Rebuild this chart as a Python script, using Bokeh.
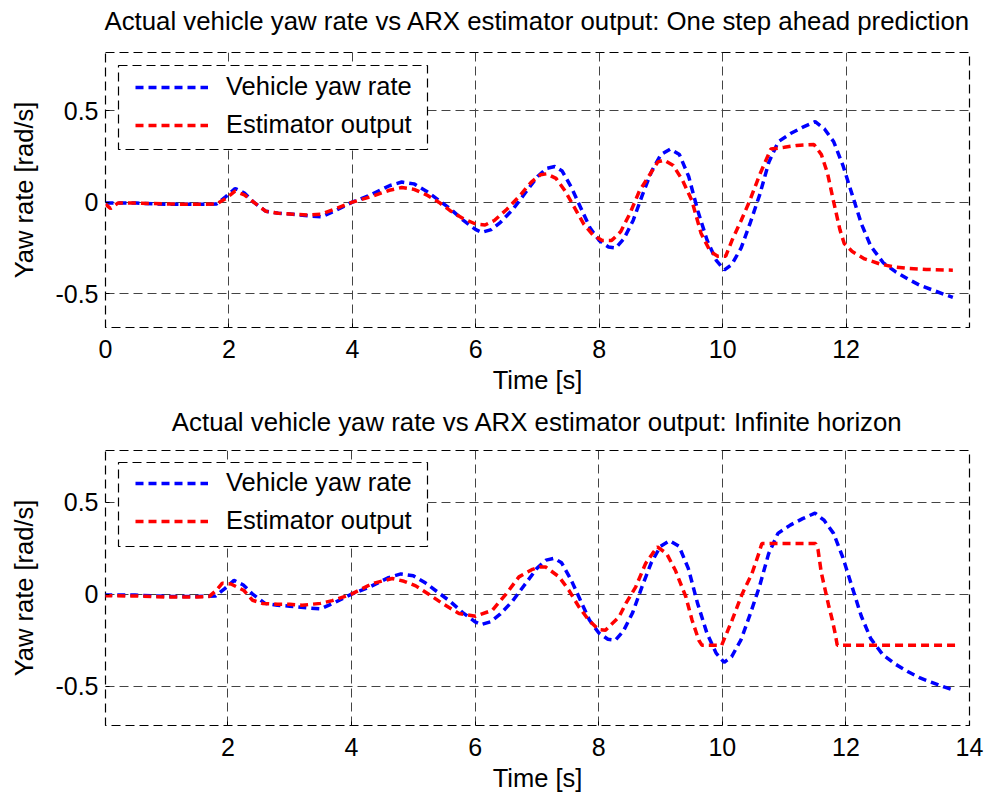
from bokeh.plotting import figure
from bokeh.layouts import column
from bokeh.models import FixedTicker, Range1d, Legend, LegendItem, BoxAnnotation
from bokeh.embed import file_html
from bokeh.resources import INLINE

# ---------------- data ----------------
t_yaw = [0.0, 0.2, 0.5, 1.0, 1.5, 1.8, 1.95, 2.1, 2.25, 2.4,
         2.6, 2.8, 3.0, 3.3, 3.5, 3.7, 4.0, 4.3, 4.6, 4.8,
         5.0, 5.2, 5.4, 5.6, 5.8, 6.0, 6.1, 6.25, 6.4, 6.6,
         6.8, 7.0, 7.15, 7.28, 7.4, 7.55, 7.7, 7.85, 8.0, 8.15,
         8.27, 8.4, 8.55, 8.7, 8.85, 9.0, 9.15, 9.3, 9.45, 9.6,
         9.75, 9.9, 10.03, 10.15, 10.3, 10.45, 10.6, 10.75, 10.9, 11.1,
         11.3, 11.5, 11.65, 11.8, 11.95, 12.1, 12.25, 12.4, 12.6, 12.8,
         13.0, 13.2, 13.4, 13.6, 13.73]
yaw_rate = [-0.005, -0.005, -0.005, -0.012, -0.012, -0.01, 0.03, 0.075, 0.05, 0.0,
            -0.05, -0.06, -0.065, -0.075, -0.08, -0.05, 0.0, 0.04, 0.09, 0.11,
            0.1, 0.06, 0.01, -0.04, -0.1, -0.15, -0.165, -0.15, -0.11, -0.04,
            0.05, 0.14, 0.185, 0.195, 0.17, 0.08, -0.03, -0.14, -0.21, -0.245,
            -0.25, -0.2, -0.1, 0.04, 0.17, 0.26, 0.29, 0.26, 0.14, -0.05,
            -0.21, -0.32, -0.37, -0.34, -0.25, -0.11, 0.04, 0.22, 0.33, 0.375,
            0.41, 0.44, 0.4, 0.33, 0.2, 0.04, -0.12, -0.24, -0.33, -0.38,
            -0.42, -0.455, -0.48, -0.505, -0.52]

t_est1 = [0.0, 0.08, 0.2, 0.5, 1.0, 1.5, 1.8, 1.95, 2.1, 2.25,
          2.4, 2.6, 2.8, 3.0, 3.3, 3.5, 3.7, 4.0, 4.3, 4.6,
          4.8, 5.0, 5.2, 5.4, 5.6, 5.8, 6.0, 6.15, 6.3, 6.5,
          6.7, 6.9, 7.05, 7.15, 7.3, 7.45, 7.6, 7.75, 7.9, 8.05,
          8.2, 8.35, 8.5, 8.65, 8.8, 8.95, 9.05, 9.2, 9.35, 9.5,
          9.65, 9.8, 9.92, 10.05, 10.15, 10.3, 10.43, 10.6, 10.78, 11.0,
          11.2, 11.48, 11.6, 11.7, 11.8, 11.9, 11.97, 12.1, 12.3, 12.56,
          12.8, 13.0, 13.3, 13.73]
est1 = [-0.01, -0.035, -0.005, -0.005, -0.01, -0.012, -0.01, 0.02, 0.06, 0.04,
        0.0, -0.05, -0.06, -0.065, -0.07, -0.065, -0.04, 0.0, 0.03, 0.065,
        0.08, 0.07, 0.04, 0.0, -0.05, -0.09, -0.12, -0.125, -0.1, -0.04,
        0.03, 0.11, 0.15, 0.155, 0.13, 0.06, -0.03, -0.12, -0.18, -0.21,
        -0.21, -0.16, -0.06, 0.06, 0.14, 0.22, 0.23, 0.2, 0.12, 0.01,
        -0.17, -0.27, -0.295, -0.295, -0.21, -0.1, 0.0, 0.15, 0.29, 0.3,
        0.31, 0.315, 0.26, 0.157, 0.0, -0.15, -0.226, -0.27, -0.31, -0.339,
        -0.355, -0.362, -0.368, -0.372]

t_est2 = [0.0, 0.5, 1.0, 1.5, 1.7, 1.81, 1.91, 2.05, 2.26, 2.4,
          2.56, 2.8, 3.0, 3.2, 3.5, 3.69, 4.0, 4.34, 4.66, 4.85,
          5.04, 5.25, 5.47, 5.74, 6.01, 6.28, 6.5, 6.71, 6.93, 7.05,
          7.14, 7.36, 7.52, 7.68, 7.84, 8.0, 8.11, 8.33, 8.44, 8.6,
          8.76, 8.87, 8.95, 9.1, 9.24, 9.41, 9.51, 9.62, 9.67, 9.99,
          10.16, 10.32, 10.48, 10.59, 10.64, 11.51, 11.55, 11.6, 11.66, 11.72,
          11.78, 11.83, 11.86, 13.8]
est2 = [-0.008, -0.01, -0.015, -0.015, -0.012, 0.02, 0.06, 0.055, 0.02, -0.033,
        -0.05, -0.055, -0.055, -0.06, -0.05, -0.035, 0.0, 0.058, 0.085, 0.07,
        0.045, 0.0, -0.05, -0.105, -0.12, -0.087, 0.0, 0.094, 0.135, 0.148,
        0.148, 0.094, 0.02, -0.069, -0.141, -0.192, -0.196, -0.123, -0.05, 0.04,
        0.167, 0.22, 0.257, 0.22, 0.13, -0.014, -0.14, -0.25, -0.277, -0.277,
        -0.14, 0.0, 0.112, 0.22, 0.275, 0.275, 0.24, 0.12, 0.03, -0.06,
        -0.14, -0.22, -0.277, -0.277]

titles = ["Actual vehicle yaw rate vs ARX estimator output: One step ahead prediction",
          "Actual vehicle yaw rate vs ARX estimator output: Infinite horizon"]
legend_labels = ["Vehicle yaw rate", "Estimator output"]
x_label = "Time [s]"
y_label = "Yaw rate [rad/s]"
xticks_top = [0, 2, 4, 6, 8, 10, 12]
xticks_bottom = [2, 4, 6, 8, 10, 12, 14]
yticks = [-0.5, 0, 0.5]
ytick_labels = {-0.5: "-0.5", 0: "0", 0.5: "0.5"}

FONT = "Liberation Sans"
W = 985


def title_fig(text, height, standoff):
    t = figure(width=W, height=height, output_backend="svg", toolbar_location=None,
               min_border=0, x_axis_type=None, y_axis_type=None,
               x_range=Range1d(0, 1), y_range=Range1d(0, 1))
    t.outline_line_color = None
    t.title.text = text
    t.title.align = "center"
    t.title.standoff = standoff
    t.title.text_font = FONT
    t.title.text_font_size = "25.8px"
    t.title.text_font_style = "normal"
    t.title.text_color = "black"
    return t


def make(est_t, est_v, xr, yr, xticks, height, left, top, right, bottom, legend_y):
    p = figure(width=W, height=height, x_range=Range1d(*xr), y_range=Range1d(*yr),
               output_backend="svg", toolbar_location=None,
               min_border_left=left, min_border_right=right,
               min_border_top=top, min_border_bottom=bottom)
    fh = height - top - bottom

    p.outline_line_color = "black"
    p.outline_line_dash = "9 5"
    p.outline_line_width = 1.2
    p.outline_line_alpha = 1.0

    p.xaxis.ticker = FixedTicker(ticks=xticks)
    p.yaxis.ticker = FixedTicker(ticks=yticks)
    p.yaxis.major_label_overrides = ytick_labels
    for ax in (p.xaxis, p.yaxis):
        ax.axis_line_color = None
        ax.major_tick_in = 4
        ax.major_tick_out = 0
        ax.major_tick_line_color = "black"
        ax.minor_tick_line_color = None
        ax.major_label_text_font = FONT
        ax.major_label_text_font_size = "25px"
        ax.major_label_text_color = "black"
        ax.axis_label_text_font = FONT
        ax.axis_label_text_font_size = "25.5px"
        ax.axis_label_text_font_style = "normal"
        ax.axis_label_text_color = "black"
    p.xaxis.axis_label = x_label
    p.yaxis.axis_label = y_label
    p.xaxis.major_label_standoff = 12
    p.xaxis.axis_label_standoff = 5
    p.yaxis.major_label_standoff = 7
    p.yaxis.axis_label_standoff = 14

    for g in (p.xgrid, p.ygrid):
        g.grid_line_color = "#444444"
        g.grid_line_dash = "9 5"
        g.grid_line_width = 1
        g.grid_line_alpha = 1.0

    r1 = p.line(t_yaw, yaw_rate, line_color="#0000ff", line_width=3.5, line_dash="8 5")
    r2 = p.line(est_t, est_v, line_color="#ff0000", line_width=3.5, line_dash="8 5")

    # legend frame (dashed box)
    p.add_layout(BoxAnnotation(left=13, right=322, top=fh - 13, bottom=fh - 97,
                               left_units="screen", right_units="screen",
                               top_units="screen", bottom_units="screen",
                               fill_color="white", fill_alpha=1.0,
                               line_color="black", line_dash="9 5", line_width=1.2,
                               line_alpha=1.0, level="annotation"))

    leg = Legend(items=[LegendItem(label=legend_labels[0], renderers=[r1]),
                        LegendItem(label=legend_labels[1], renderers=[r2])],
                 location=(30, legend_y))
    leg.margin = 0
    leg.padding = 0
    leg.spacing = 9
    leg.label_height = 28
    leg.glyph_height = 28
    leg.glyph_width = 73
    leg.label_standoff = 18
    leg.label_text_font = FONT
    leg.label_text_font_size = "25.5px"
    leg.label_text_color = "black"
    leg.border_line_color = None
    leg.background_fill_alpha = 0.0
    p.add_layout(leg)
    return p


t1 = title_fig(titles[0], 42, 9)
p1 = make(t_est1, est1, (0, 14), (-0.685, 0.818), xticks_top,
          355, 105, 10, 12, 70, 188)
t2 = title_fig(titles[1], 48, 16)
p2 = make(t_est2, est2, (0.02, 14), (-0.713, 0.78), xticks_bottom,
          349, 103, 5, 16, 68, 190)

layout = column(t1, p1, t2, p2, spacing=0)
open("out.html", "w").write(file_html(layout, INLINE))
